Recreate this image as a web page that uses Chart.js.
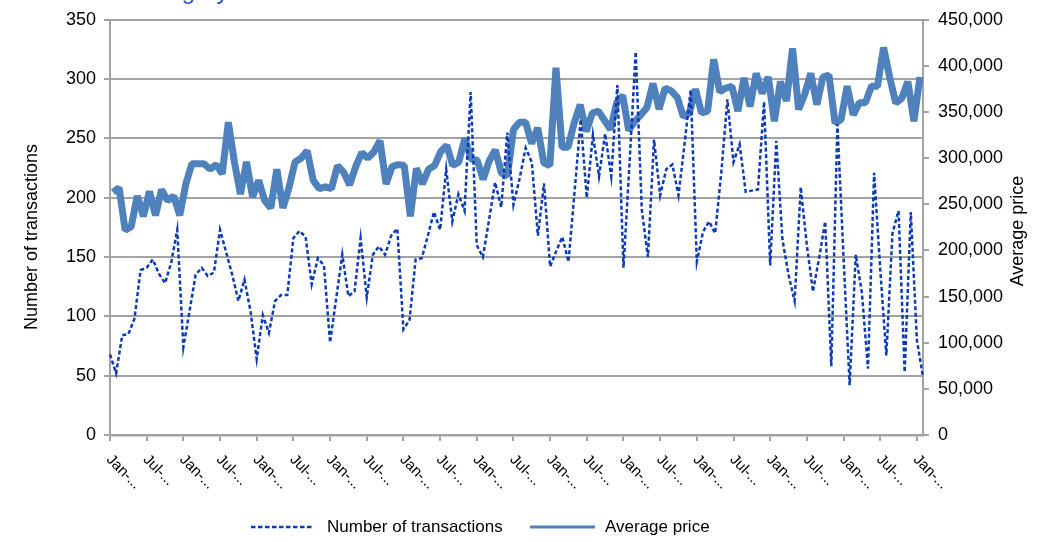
<!DOCTYPE html>
<html>
<head>
<meta charset="utf-8">
<script src="https://cdn.jsdelivr.net/npm/chart.js@4.4.1/dist/chart.umd.min.js"></script>
<style>
  html, body { margin: 0; padding: 0; background: #ffffff; }
  canvas { display: block; }
</style>
</head>
<body>
<canvas id="chart" width="1045" height="542"></canvas>
<script>
// Monthly categories, January first; a label is printed every six months
const monthNames = ['Jan', 'Feb', 'Mar', 'Apr', 'May', 'Jun', 'Jul', 'Aug', 'Sep', 'Oct', 'Nov', 'Dec'];
const months = Array.from({ length: 134 }, (_, i) => monthNames[i % 12]);
const labelEvery = 6;

// Number of transactions per month (left axis)
const transactions = [
  68, 52, 84, 85, 98, 139, 141, 148, 136, 128, 145, 173,
  74, 104, 135, 141, 134, 137, 173, 154, 135, 113, 131, 104,
  64, 101, 86, 113, 118, 118, 166, 172, 167, 127, 149, 143,
  78, 115, 152, 117, 121, 166, 116, 152, 159, 152, 168, 174,
  89, 97, 148, 149, 168, 188, 173, 224, 180, 203, 189, 289,
  160, 150, 181, 213, 192, 255, 194, 216, 242, 230, 168, 212,
  142, 155, 167, 146, 205, 266, 200, 253, 218, 254, 218, 295,
  141, 230, 323, 190, 150, 249, 202, 224, 228, 202, 246, 291,
  146, 171, 180, 170, 221, 283, 230, 245, 205, 206, 207, 281,
  143, 248, 165, 135, 113, 209, 160, 121, 149, 180, 58, 262,
  150, 42, 152, 120, 56, 221, 140, 67, 170, 189, 53, 188,
  80, 49
];

// Average price per month (right axis)
const avgPrice = [
  263000, 268000, 222000, 226000, 259000, 237000, 264000, 238000, 266000, 254000, 259000, 238000,
  272000, 294000, 294000, 294000, 288000, 293000, 283000, 339000, 296000, 261000, 296000, 258000,
  276000, 254000, 246000, 288000, 246000, 268000, 296000, 300000, 308000, 276000, 267000, 269000,
  267000, 292000, 285000, 271000, 291000, 306000, 300000, 307000, 319000, 272000, 291000, 293000,
  292000, 237000, 289000, 272000, 288000, 292000, 307000, 314000, 292000, 296000, 322000, 299000,
  298000, 277000, 297000, 309000, 284000, 281000, 331000, 339000, 339000, 316000, 333000, 295000,
  292000, 398000, 312000, 312000, 338000, 358000, 329000, 349000, 351000, 341000, 331000, 360000,
  368000, 330000, 340000, 347000, 355000, 381000, 353000, 376000, 373000, 366000, 345000, 349000,
  375000, 349000, 351000, 407000, 372000, 376000, 378000, 351000, 387000, 356000, 392000, 370000,
  388000, 340000, 383000, 362000, 419000, 353000, 369000, 392000, 358000, 388000, 390000, 338000,
  342000, 378000, 347000, 360000, 360000, 378000, 378000, 420000, 388000, 360000, 365000, 383000,
  340000, 388000
];

const seriesNames = ['Number of transactions', 'Average price'];
const axisTitles = ['Number of transactions', 'Average price'];
const chartTitle = 'Category';

const FONT = '"Liberation Sans", Arial, Helvetica, sans-serif';
const GRID = '#a3a3a3';
const DOT_BLUE = '#0b3cb6';
const PRICE_BLUE = '#4f81bd';

Chart.defaults.font.family = FONT;
Chart.defaults.color = '#000000';

// Texts drawn over the chart: rotated month labels, axis titles, legend and heading
const overlay = {
  id: 'overlay',
  afterDraw(chart) {
    const { ctx, scales } = chart;
    const x = scales.x;
    ctx.save();

    // month labels, rotated clockwise, starting at their tick
    ctx.fillStyle = '#000000';
    ctx.font = '15px ' + FONT;
    ctx.textAlign = 'left';
    ctx.textBaseline = 'top';
    for (let i = 0; i < months.length; i += labelEvery) {
      const px = x.getPixelForValue(i);
      ctx.save();
      ctx.translate(px + 4, 452);
      ctx.rotate(Math.PI / 4);
      ctx.fillText(months[i] + '-...', 0, 0);
      ctx.restore();
    }

    // axis titles
    ctx.font = '18px ' + FONT;
    ctx.textAlign = 'center';
    ctx.textBaseline = 'middle';
    ctx.save();
    ctx.translate(32, 237);
    ctx.rotate(-Math.PI / 2);
    ctx.fillText(axisTitles[0], 0, 0);
    ctx.restore();
    ctx.save();
    ctx.translate(1018, 231);
    ctx.rotate(-Math.PI / 2);
    ctx.fillText(axisTitles[1], 0, 0);
    ctx.restore();

    // legend
    const ly = 527;
    ctx.lineCap = 'butt';
    ctx.strokeStyle = DOT_BLUE;
    ctx.lineWidth = 2.5;
    ctx.setLineDash([4.5, 2.5]);
    ctx.beginPath();
    ctx.moveTo(251, ly);
    ctx.lineTo(314, ly);
    ctx.stroke();
    ctx.setLineDash([]);
    ctx.strokeStyle = PRICE_BLUE;
    ctx.lineWidth = 3;
    ctx.beginPath();
    ctx.moveTo(530, ly);
    ctx.lineTo(595, ly);
    ctx.stroke();
    ctx.font = '17px ' + FONT;
    ctx.textAlign = 'left';
    ctx.fillStyle = '#000000';
    ctx.fillText(seriesNames[0], 327, ly);
    ctx.fillText(seriesNames[1], 605, ly);

    // heading, mostly above the top edge
    ctx.font = '24px ' + FONT;
    ctx.fillStyle = '#1f4fc8';
    ctx.textBaseline = 'alphabetic';
    ctx.fillText(chartTitle, 131, -1);

    ctx.restore();
  }
};

new Chart(document.getElementById('chart'), {
  type: 'line',
  data: {
    labels: months,
    datasets: [
      {
        label: seriesNames[0],
        data: transactions,
        xAxisID: 'x',
        yAxisID: 'y',
        borderColor: DOT_BLUE,
        backgroundColor: DOT_BLUE,
        borderWidth: 2.5,
        borderDash: [4, 2.5],
        pointRadius: 0,
        tension: 0,
        fill: false
      },
      {
        label: seriesNames[1],
        data: avgPrice,
        xAxisID: 'x2',
        yAxisID: 'y2',
        borderColor: PRICE_BLUE,
        backgroundColor: PRICE_BLUE,
        borderWidth: 7,
        borderJoinStyle: 'bevel',
        pointRadius: 0,
        tension: 0,
        fill: false
      }
    ]
  },
  options: {
    responsive: false,
    animation: false,
    devicePixelRatio: 1,
    layout: { padding: { top: 17, left: 0, right: 0, bottom: 0 } },
    plugins: {
      legend: { display: false },
      tooltip: { enabled: false },
      title: { display: false }
    },
    scales: {
      x: {
        type: 'category',
        offset: false,
        ticks: { display: false, autoSkip: false },
        grid: {
          drawOnChartArea: false,
          drawTicks: true,
          tickLength: 6,
          lineWidth: 2,
          offset: false,
          color: (c) => (c.index % labelEvery === 0 ? GRID : 'rgba(0,0,0,0)')
        },
        border: { display: true, color: GRID, width: 2.5 },
        afterFit: (s) => { s.height = 107; }
      },
      x2: {
        type: 'category',
        offset: true,
        display: false,
        grid: { display: false }
      },
      y: {
        position: 'left',
        min: 0,
        max: 350,
        ticks: { stepSize: 50, padding: 8, font: { size: 18 }, color: '#000000' },
        grid: { color: GRID, lineWidth: 2, tickLength: 6, drawTicks: true },
        border: { display: true, color: GRID, width: 2 },
        afterFit: (s) => { s.width = 110; }
      },
      y2: {
        position: 'right',
        min: 0,
        max: 450000,
        ticks: {
          stepSize: 50000,
          padding: 9,
          font: { size: 18 },
          color: '#000000',
          callback: (v) => Number(v).toLocaleString('en-US')
        },
        grid: { drawOnChartArea: false, color: GRID, lineWidth: 2, tickLength: 6 },
        border: { display: true, color: GRID, width: 2 },
        afterFit: (s) => { s.width = 122; }
      }
    }
  },
  plugins: [overlay]
});
</script>
</body>
</html>
